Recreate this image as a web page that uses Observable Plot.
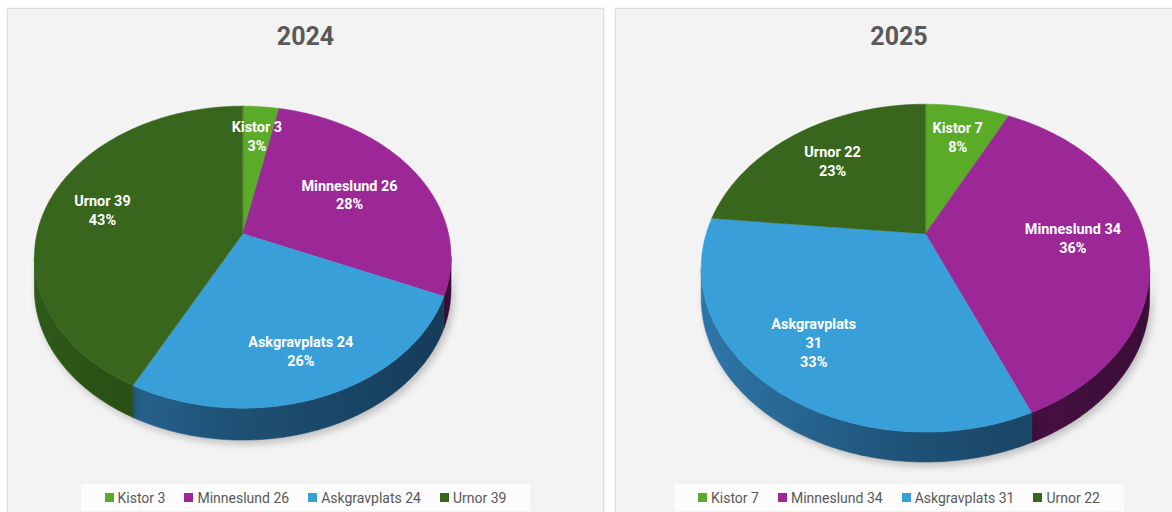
<!DOCTYPE html>
<html><head><meta charset="utf-8">
<script src="https://cdn.jsdelivr.net/npm/d3@7"></script>
<script src="https://cdn.jsdelivr.net/npm/@observablehq/plot@0.6"></script>
<style>
html,body{margin:0;padding:0;}
body{background:#fff;width:1172px;height:512px;overflow:hidden;position:relative;font-family:Roboto,"Open Sans",sans-serif;}
.panel{position:absolute;top:8px;height:520px;background:#f3f3f3;border:1px solid #dddddd;box-shadow:0 0 3px rgba(0,0,0,0.10);overflow:hidden;box-sizing:border-box;}
.title{position:absolute;top:13px;left:0;right:0;text-align:center;font-weight:bold;font-size:25px;color:#595959;}
.panel svg{position:absolute;left:0;top:0;overflow:visible;}
.legend{position:absolute;top:475px;height:27px;left:50%;transform:translateX(-50%);background:#fcfcfc;display:flex;align-items:center;white-space:nowrap;padding:0 24px;font-size:14px;color:#595959;gap:19px;}
.item{display:flex;align-items:center;}
.sw{display:inline-block;width:9px;height:9px;margin-right:4px;}
</style></head><body>
<div id="p0" class="panel" style="left:7px;width:597px;"></div>
<div id="p1" class="panel" style="left:615px;width:568px;"></div>
<script>
const categories = ["Kistor", "Minneslund", "Askgravplats", "Urnor"];
const years = ["2024", "2025"];
const values2024 = [3, 26, 24, 39];
const values2025 = [7, 34, 31, 22];
const percentLabels2024 = ["3%", "28%", "26%", "43%"];
const percentLabels2025 = ["8%", "36%", "33%", "23%"];
const topColors = ["#5aab28", "#9b2896", "#399fd8", "#38661c"];
const sideLight = ["#45861f", "#6a1e64", "#2e76a8", "#2f5a18"];
const sideDark = ["#2a5612", "#3c0d38", "#153a57", "#1c360d"];

function pieChart(cfg, p) {
  const {values, pcts, width, height, cx, cy, A, B, k, depth, wrap} = cfg;
  const total = d3.sum(values);
  const ends = d3.cumsum(values);
  const proj = (t, r = 1, dz = 0) => {
    const s = 1 / (1 + k * r * Math.cos(t));
    return {x: cx + A * r * Math.sin(t) * s, y: cy - B * r * Math.cos(t) * s + dz};
  };
  const slices = values.map((v, i) => ({
    i, cat: categories[i], v,
    a0: (ends[i] - v) / total * 2 * Math.PI,
    a1: ends[i] / total * 2 * Math.PI
  }));
  const thR = Math.acos(-k), thL = 2 * Math.PI - thR;
  const step = Math.PI / 360;
  const rim = d3.range(721).map(j => { const q = proj(j / 720 * 2 * Math.PI); return [q.x, q.y]; });
  const fontSize = 14.5, lineH = 1.3;
  const topRows = [], sideRows = [], labels = [];
  for (const s of slices) {
    const color = topColors[s.i];
    const n = Math.max(2, Math.ceil((s.a1 - s.a0) / step));
    topRows.push({id: s.cat, color, ...proj(0, 0)});
    for (let j = 0; j <= n; j++) {
      topRows.push({id: s.cat, color, ...proj(s.a0 + (s.a1 - s.a0) * j / n)});
    }
    const lo = Math.max(s.a0, thR), hi = Math.min(s.a1, thL);
    if (hi > lo) {
      const m = Math.max(2, Math.ceil((hi - lo) / step));
      const sc = d3.interpolateRgb(sideLight[s.i], sideDark[s.i])(0.5);
      const pts = d3.range(m + 1).map(j => lo + (hi - lo) * j / m);
      for (const t of pts) sideRows.push({id: s.cat, idx: s.i, color: sc, ...proj(t)});
      for (const t of pts.reverse()) sideRows.push({id: s.cat, idx: s.i, color: sc, ...proj(t, 1, depth)});
    }
    // label: mid-angle at 0.75 radius, pulled inward if it would cross the rim
    const mid = (s.a0 + s.a1) / 2;
    const sep = wrap.includes(s.cat) ? "\n" : " ";
    const text = s.cat + sep + s.v + "\n" + pcts[s.i];
    const lines = text.split("\n");
    const hw = d3.max(lines, l => l.length) * fontSize * 0.56 / 2 + 10;
    const hh = lines.length * fontSize * lineH / 2 + 4;
    let r = 0.75, pos = proj(mid, r);
    while (r > 0.3) {
      pos = proj(mid, r);
      const corners = [[pos.x - hw, pos.y - hh], [pos.x + hw, pos.y - hh], [pos.x - hw, pos.y + hh], [pos.x + hw, pos.y + hh]];
      if (corners.every(c => d3.polygonContains(rim, c))) break;
      r -= 0.01;
    }
    labels.push({text, ...pos});
  }
  const sideIdx = categories.map((c, i) => i).filter(i => sideRows.some(d => d.idx === i));
  const sideMarks = sideIdx.map(i =>
    Plot.line(sideRows.filter(d => d.idx === i), {x: "x", y: "y", z: "id", fill: "color", stroke: "color", strokeWidth: 0.6, curve: "linear-closed"})
  );
  const svg = Plot.plot({
    width, height, margin: 0,
    x: {domain: [0, width], range: [0, width], axis: null},
    y: {domain: [0, height], range: [0, height], axis: null},
    color: {type: "identity"},
    style: {background: "transparent", fontFamily: "Roboto, sans-serif"},
    marks: [
      ...sideMarks,
      Plot.line(topRows, {x: "x", y: "y", z: "id", fill: "color", stroke: "color", strokeWidth: 0.5, curve: "linear-closed"}),
      Plot.text(labels, {x: "x", y: "y", text: "text", fill: "white", fontWeight: "bold", fontSize, lineHeight: lineH})
    ]
  });
  // gradient shading for the side walls (light on the left, dark on the right)
  const ns = "http://www.w3.org/2000/svg";
  const defs = document.createElementNS(ns, "defs");
  categories.forEach((c, i) => {
    const g = document.createElementNS(ns, "linearGradient");
    g.setAttribute("id", `side${p}-${i}`);
    g.setAttribute("gradientUnits", "userSpaceOnUse");
    g.setAttribute("x1", cx - A * 1.02); g.setAttribute("x2", cx + A * 1.02);
    g.setAttribute("y1", 0); g.setAttribute("y2", 0);
    [[0, sideLight[i]], [0.45, d3.interpolateRgb(sideLight[i], sideDark[i])(0.6)], [1, sideDark[i]]].forEach(([o, col]) => {
      const st = document.createElementNS(ns, "stop");
      st.setAttribute("offset", o); st.setAttribute("stop-color", col);
      g.appendChild(st);
    });
    defs.appendChild(g);
  });
  svg.insertBefore(defs, svg.firstChild);
  const lineGroups = svg.querySelectorAll('g[aria-label="line"]');
  sideIdx.forEach((i, j) => {
    const g = lineGroups[j];
    if (!g) return;
    g.querySelectorAll("path").forEach(path => {
      path.setAttribute("fill", `url(#side${p}-${i})`);
      path.setAttribute("stroke", `url(#side${p}-${i})`);
    });
    g.style.filter = "drop-shadow(3px 4px 4px rgba(0,0,0,0.2))";
  });
  return svg;
}

const configs = [
  {values: values2024, pcts: percentLabels2024, width: 597, height: 470, cx: 235, cy: 225, A: 206.5, B: 147.9, k: 0.155, depth: 32, wrap: []},
  {values: values2025, pcts: percentLabels2025, width: 568, height: 470, cx: 310, cy: 225, A: 220, B: 157.3, k: 0.21, depth: 30, wrap: ["Askgravplats"]}
];

configs.forEach((cfg, p) => {
  const panel = document.getElementById("p" + p);
  panel.appendChild(pieChart(cfg, p));
  const t = document.createElement("div");
  t.className = "title";
  t.textContent = years[p];
  panel.appendChild(t);
  const lg = document.createElement("div");
  lg.className = "legend";
  categories.forEach((c, i) => {
    const it = document.createElement("span");
    it.className = "item";
    it.innerHTML = `<span class="sw" style="background:${topColors[i]}"></span>${c} ${cfg.values[i]}`;
    lg.appendChild(it);
  });
  panel.appendChild(lg);
});
</script>
</body></html>
